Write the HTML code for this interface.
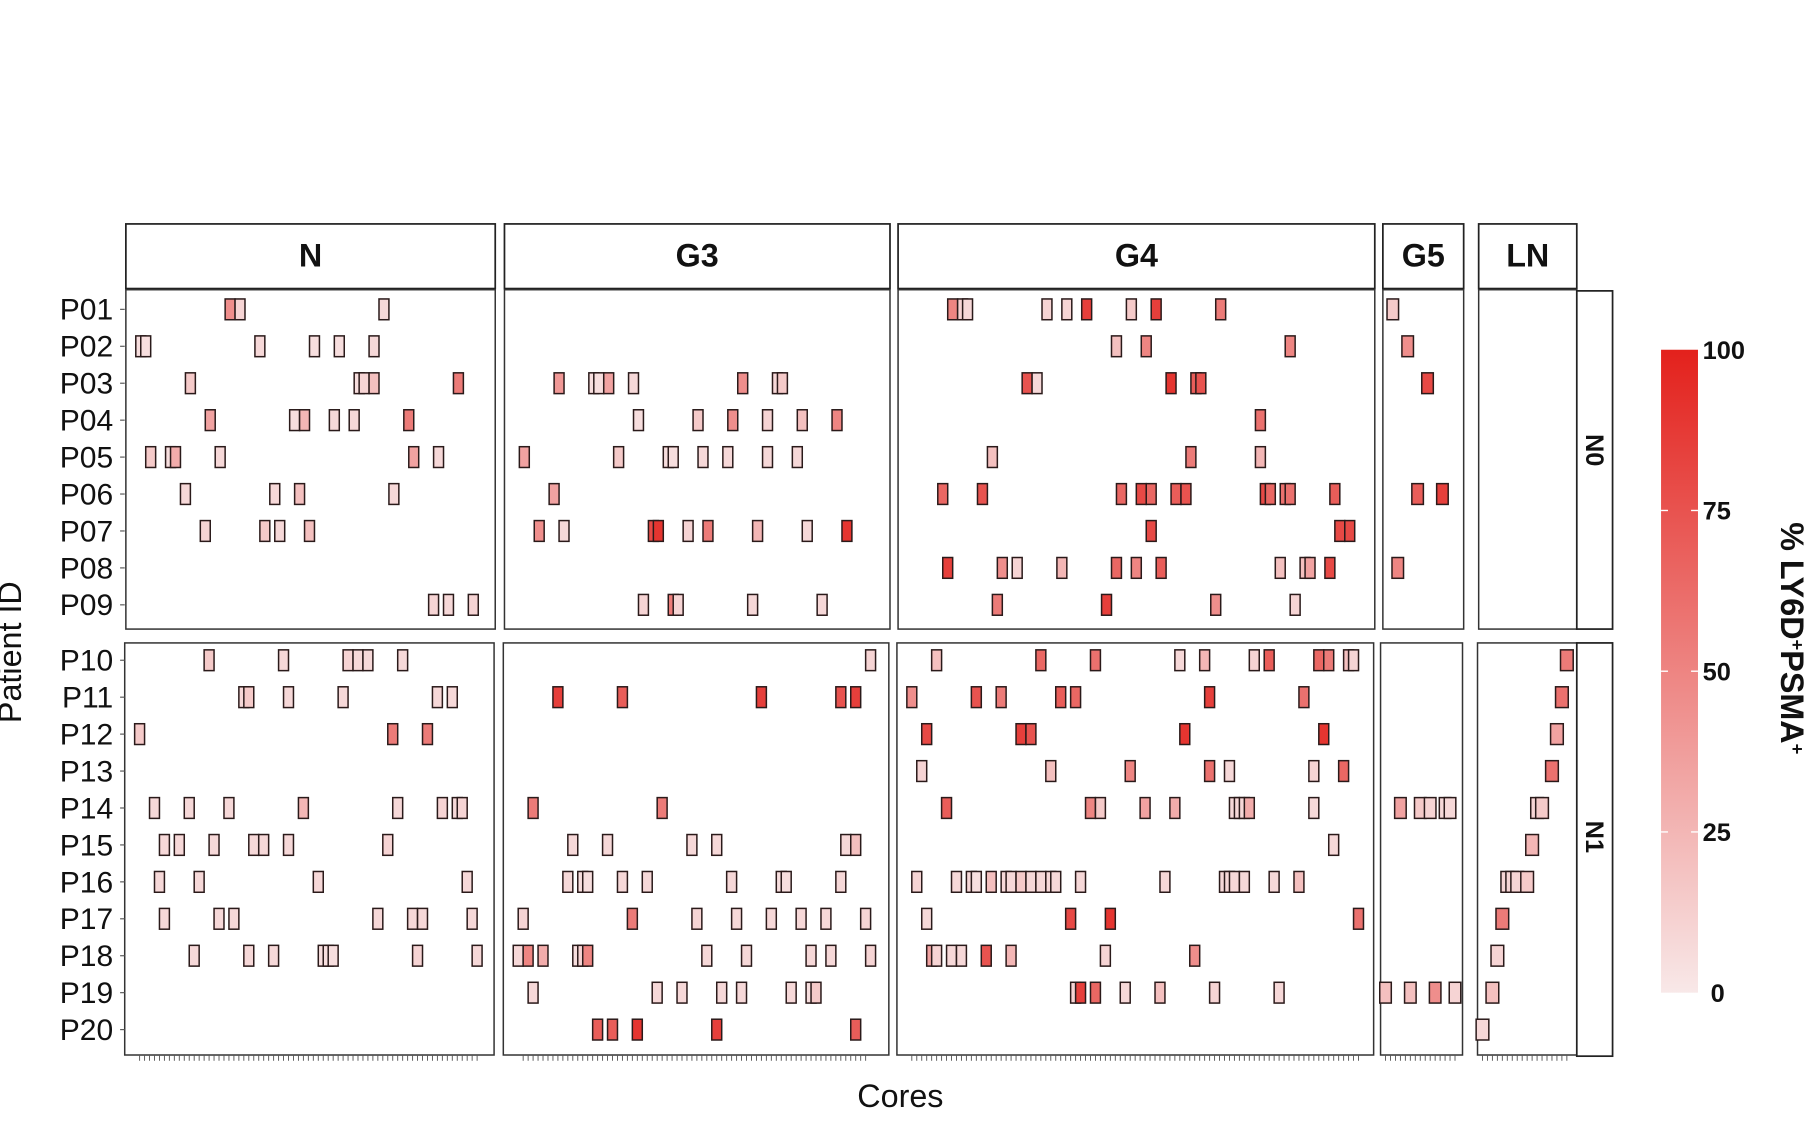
<!DOCTYPE html>
<html><head><meta charset="utf-8"><style>
html,body{margin:0;padding:0;background:#fff;}
svg{display:block;}
text{font-family:"Liberation Sans",Arial,sans-serif;}
</style></head><body>
<svg id="chart" width="1810" height="1147" viewBox="0 0 1568 993.7" xmlns="http://www.w3.org/2000/svg">
<defs><linearGradient id="cb" x1="0" y1="1" x2="0" y2="0"><stop offset="0" stop-color="rgb(248,232,232)"/><stop offset="1" stop-color="rgb(227,33,28)"/></linearGradient></defs>
<g id="layer"></g>
</svg>
<script>
const rows = ["P01","P02","P03","P04","P05","P06","P07","P08","P09","P10","P11","P12","P13","P14","P15","P16","P17","P18","P19","P20"];
const panelNames = ["N","G3","G4","G5","LN"];
const colorTicks = [0,25,50,75,100];
// tiles: [row index, core index, value %]
const tilesN = [[0,21,45],[0,23,10],[0,52,8],[1,3,5],[1,4,5],[1,27,8],[1,38,5],[1,43,5],[1,50,8],[2,13,15],[2,47,5],[2,48,10],[2,50,20],[2,67,55],[3,17,35],[3,34,5],[3,36,25],[3,42,8],[3,46,8],[3,57,55],[4,5,15],[4,9,5],[4,10,30],[4,19,8],[4,58,35],[4,63,8],[5,12,8],[5,30,8],[5,35,20],[5,54,8],[6,16,10],[6,28,15],[6,31,8],[6,37,20],[8,62,10],[8,65,8],[8,70,10],
[9,17,15],[9,32,8],[9,45,10],[9,47,8],[9,49,8],[9,56,8],[10,24,8],[10,25,15],[10,33,8],[10,44,8],[10,63,8],[10,66,8],[11,3,15],[11,54,55],[11,61,55],[13,6,8],[13,13,8],[13,21,8],[13,36,25],[13,55,8],[13,64,10],[13,67,8],[13,68,10],[14,8,8],[14,11,8],[14,18,8],[14,26,8],[14,28,8],[14,33,8],[14,53,10],[15,7,8],[15,15,8],[15,39,8],[15,69,8],[16,8,8],[16,19,8],[16,22,8],[16,51,8],[16,58,8],[16,60,8],[16,70,8],[17,14,8],[17,25,8],[17,30,8],[17,40,5],[17,41,5],[17,42,5],[17,59,10],[17,71,8]];
const tilesG3 = [[2,11,40],[2,18,5],[2,19,5],[2,21,35],[2,26,8],[2,48,45],[2,55,8],[2,56,15],[3,27,5],[3,39,15],[3,46,45],[3,53,10],[3,60,20],[3,67,50],[4,4,35],[4,23,15],[4,33,5],[4,34,5],[4,40,8],[4,45,8],[4,53,8],[4,59,8],[5,10,35],[6,7,45],[6,12,8],[6,30,80],[6,31,90],[6,37,10],[6,41,55],[6,51,25],[6,61,8],[6,69,90],[8,28,10],[8,34,55],[8,35,10],[8,50,8],[8,64,8],
[9,74,10],[10,11,85],[10,24,70],[10,52,85],[10,68,75],[10,71,85],[13,6,55],[13,32,55],[14,14,8],[14,21,8],[14,38,8],[14,43,8],[14,69,8],[14,71,20],[15,13,8],[15,16,5],[15,17,5],[15,24,8],[15,29,8],[15,46,8],[15,56,5],[15,57,5],[15,68,8],[16,4,10],[16,26,55],[16,39,10],[16,47,8],[16,54,8],[16,60,8],[16,65,8],[16,73,10],[17,3,8],[17,5,50],[17,8,30],[17,15,5],[17,16,10],[17,17,50],[17,41,8],[17,49,8],[17,62,8],[17,66,8],[17,74,10],[18,6,8],[18,31,8],[18,36,8],[18,44,8],[18,48,8],[18,58,8],[18,62,5],[18,63,15],[19,19,70],[19,22,70],[19,27,90],[19,43,85],[19,71,70]];
const tilesG4 = [[0,11,50],[0,13,10],[0,14,8],[0,30,10],[0,34,10],[0,38,85],[0,47,15],[0,52,85],[0,65,55],[1,44,20],[1,50,50],[1,79,50],[2,26,75],[2,28,8],[2,55,90],[2,60,70],[2,61,75],[3,73,60],[4,19,20],[4,59,55],[4,73,25],[5,9,65],[5,17,75],[5,45,65],[5,49,80],[5,51,65],[5,56,70],[5,58,75],[5,74,80],[5,75,65],[5,78,60],[5,79,60],[5,88,70],[6,51,80],[6,89,80],[6,91,80],[7,10,85],[7,21,45],[7,24,10],[7,33,25],[7,44,65],[7,48,50],[7,53,70],[7,77,20],[7,82,20],[7,83,35],[7,87,80],[8,20,55],[8,42,85],[8,64,45],[8,80,10],
[9,8,20],[9,29,65],[9,40,60],[9,57,8],[9,62,25],[9,72,10],[9,75,70],[9,85,65],[9,87,55],[9,91,20],[9,92,10],[10,3,45],[10,16,75],[10,21,55],[10,33,70],[10,36,65],[10,63,85],[10,82,60],[11,6,80],[11,25,85],[11,27,75],[11,58,90],[11,86,90],[12,5,10],[12,31,20],[12,47,50],[12,63,60],[12,67,8],[12,84,10],[12,90,65],[13,10,70],[13,39,50],[13,41,15],[13,50,35],[13,56,30],[13,68,8],[13,69,8],[13,70,8],[13,71,30],[13,84,8],[14,88,8],[15,4,10],[15,12,8],[15,15,8],[15,16,5],[15,19,20],[15,22,8],[15,23,8],[15,25,15],[15,27,8],[15,29,8],[15,31,8],[15,32,8],[15,37,8],[15,54,8],[15,66,8],[15,67,8],[15,68,8],[15,70,8],[15,76,8],[15,81,20],[16,6,8],[16,35,80],[16,43,90],[16,93,60],[17,7,35],[17,8,10],[17,11,8],[17,13,8],[17,18,75],[17,23,25],[17,42,10],[17,60,45],[18,36,10],[18,37,85],[18,40,65],[18,46,8],[18,53,20],[18,64,10],[18,77,8]];
const tilesG5 = [[0,2,15],[1,5,45],[2,9,80],[5,7,70],[5,12,85],[7,3,50],[13,4,35],[13,8,15],[13,10,10],[13,13,8],[13,14,8],[18,1,20],[18,6,20],[18,11,45],[18,15,10]];
const tilesLN = [[9,18,55],[10,17,60],[11,16,35],[12,15,60],[13,12,10],[13,13,15],[14,11,25],[15,6,10],[15,7,10],[15,8,10],[15,10,15],[16,5,55],[17,4,10],[18,3,20],[19,1,8]];

const NS="http://www.w3.org/2000/svg";
const L=document.getElementById('layer');
function mk(tag,attrs,parent){const e=document.createElementNS(NS,tag);for(const k in attrs)e.setAttribute(k,attrs[k]);(parent||L).appendChild(e);return e;}
function color(v){const t=v/100;return `rgb(${Math.round(248-21*t)},${Math.round(232-199*t)},${Math.round(232-204*t)})`;}
const STEP=4.3;
const panels=[
 {name:"N",tiles:tilesN,top:[109,429],bot:[108,428],tw:8.6,ticks:[3,71]},
 {name:"G3",tiles:tilesG3,top:[437,771],bot:[436,770],tw:8.6,ticks:[4,73]},
 {name:"G4",tiles:tilesG4,top:[778,1191],bot:[777,1190],tw:8.6,ticks:[3,93]},
 {name:"G5",tiles:tilesG5,top:[1198,1268],bot:[1196,1267],tw:10,ticks:[1,15]},
 {name:"LN",tiles:tilesLN,top:[1281,1366],bot:[1280,1366],tw:11,ticks:[1,18]}
];
function yRow(i){return i<9?268+i*32:572+(i-9)*32;}
function xCore(p,c,bottom){return (bottom?p.bot[0]:p.top[0])+c*STEP;}

panels.forEach((p,pi)=>{
  const hdr=mk('g',{});
  
  
  mk('rect',{x:p.top[0],y:194,width:p.top[1]-p.top[0],height:56,fill:'#fff',stroke:'#222','stroke-width':1.5},hdr);
  const t=mk('text',{x:(p.top[0]+p.top[1])/2,y:231,'text-anchor':'middle','font-size':28,'font-weight':'bold',fill:'#111'},hdr);
  t.textContent=p.name;
  const pt=mk('rect',{x:p.top[0],y:251,width:p.top[1]-p.top[0],height:294,fill:'#fff',stroke:'#333','stroke-width':1.3});
  
  
  const pb=mk('rect',{x:p.bot[0],y:557,width:p.bot[1]-p.bot[0],height:357,fill:'#fff',stroke:'#333','stroke-width':1.3});
  
  
  for(let c=p.ticks[0];c<=p.ticks[1];c++){
    const x=xCore(p,c,true);
    mk('line',{x1:x,x2:x,y1:914,y2:919,stroke:'#555','stroke-width':0.8});
  }
  p.tiles.forEach(d=>{
    const bottom=d[0]>=9;
    const xc=xCore(p,d[1],bottom), yc=yRow(d[0]);
    const r=mk('rect',{x:xc-p.tw/2,y:yc-9,width:p.tw,height:18,fill:color(d[2]),stroke:'#2a1a1a','stroke-width':1.3});
    
    
  });
});
rows.forEach((r,i)=>{
  const y=yRow(i);
  mk('line',{x1:104,x2:108,y1:y,y2:y,stroke:'#555','stroke-width':1});
  const t=mk('text',{x:98,y:y+9,'text-anchor':'end','font-size':26,fill:'#111'});
  
  
  t.textContent=r;
});
[["N0",252,545,390],["N1",557,915,725]].forEach(s=>{
  const g=mk('g',{});
  
  
  mk('rect',{x:1366,y:s[1],width:31,height:s[2]-s[1],fill:'#fff',stroke:'#222','stroke-width':1.5},g);
  const t=mk('text',{x:0,y:0,'text-anchor':'middle','font-size':22,'font-weight':'bold',fill:'#111',transform:`translate(1374,${s[3]}) rotate(90)`},g);
  t.textContent=s[0];
});
const xt=mk('text',{x:780,y:959,'text-anchor':'middle','font-size':28,fill:'#111'});


xt.textContent='Cores';
const yt=mk('text',{x:0,y:0,'text-anchor':'middle','font-size':28,fill:'#111',transform:'translate(18,565) rotate(-90)'});


yt.textContent='Patient ID';
const cb=mk('rect',{x:1439,y:303,width:32,height:557,fill:'url(#cb)'});


colorTicks.forEach(v=>{
  const y=860-v/100*557;
  if(v>0&&v<100){mk('line',{x1:1439,x2:1445,y1:y,y2:y,stroke:'#fff','stroke-width':1.2});mk('line',{x1:1465,x2:1471,y1:y,y2:y,stroke:'#fff','stroke-width':1.2});}
  const t=mk('text',{x:v===0?1482:1475,y:y+8,'font-size':22,'font-weight':'bold',fill:'#111'});
  
  
  t.textContent=v;
});
const ct=mk('text',{x:0,y:0,'text-anchor':'middle','font-size':28,'font-weight':'bold',fill:'#111',transform:'translate(1543,553) rotate(90)'});


ct.innerHTML='% LY6D<tspan baseline-shift="super" font-size="16">+</tspan>PSMA<tspan baseline-shift="super" font-size="16">+</tspan>';
</script>
</body></html>
